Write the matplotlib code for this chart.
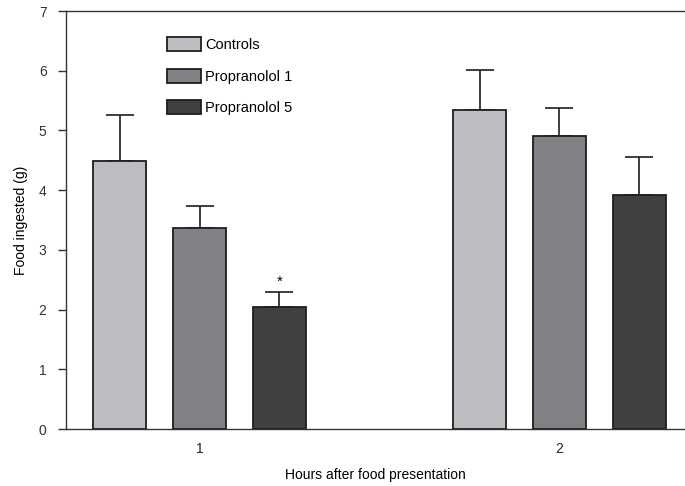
import matplotlib
matplotlib.use("Agg")
import matplotlib.pyplot as plt
import numpy as np

plt.rcParams['font.family'] = ['Liberation Sans', 'DejaVu Sans']

hours = ["1", "2"]
series = ["Controls", "Propranolol 1", "Propranolol 5"]
controls = [4.48, 5.35]
prop1 = [3.37, 4.91]
prop5 = [2.04, 3.92]
controls_err = [0.78, 0.67]
prop1_err = [0.37, 0.47]
prop5_err = [0.25, 0.64]
colors = ["#bdbec2", "#808184", "#404040"]
yticks = [0, 1, 2, 3, 4, 5, 6, 7]

fig = plt.figure(figsize=(6.85, 4.86), dpi=100)
ax = fig.add_axes([66/685, 1-429/486, 1-66/685, (429-11)/486])

x = np.arange(1, len(hours)+1)
offset = 0.222
width = 0.147
vals = [controls, prop1, prop5]
errs = [controls_err, prop1_err, prop5_err]
for i, (v, e, c, lab) in enumerate(zip(vals, errs, colors, series)):
    pos = x + (i-1)*offset
    ax.bar(pos, v, width, color=c, edgecolor="#1e1e1e", linewidth=1.3, label=lab, zorder=2)
    ax.errorbar(pos, v, yerr=[np.zeros(len(v)), e], fmt='none', ecolor="#1e1e1e",
                elinewidth=1.2, capsize=10, capthick=1.2, zorder=1)

# significance marker
ax.text(x[0]+offset, prop5[0]+prop5_err[0]+0.05, "*", ha='center', va='bottom', fontsize=11)

ax.set_xlim(0.629, 2.349)
ax.set_ylim(0, 7)
ax.set_yticks(yticks)
ax.set_xticks(x)
ax.set_xticklabels(hours)
ax.tick_params(axis='x', length=0, pad=9, labelsize=10, colors="#222222")
ax.tick_params(axis='y', length=6, width=1, direction='out', pad=8, labelsize=10, colors="#333333")
for s in ['top', 'bottom', 'left']:
    ax.spines[s].set_color("#333333")
    ax.spines[s].set_linewidth(1.0)
ax.spines['right'].set_visible(False)

ax.set_ylabel("Food ingested (g)", fontsize=10, labelpad=8)
ax.set_xlabel("Hours after food presentation", fontsize=10, labelpad=9)

leg = ax.legend(loc='upper left', bbox_to_anchor=(167/685, 1-37/486), bbox_transform=fig.transFigure,
                frameon=False, fontsize=10.5, handlelength=2.33, handleheight=1.1,
                handletextpad=0.3, labelspacing=1.15, borderpad=0, borderaxespad=0)

fig.savefig("out.png", dpi=100)
